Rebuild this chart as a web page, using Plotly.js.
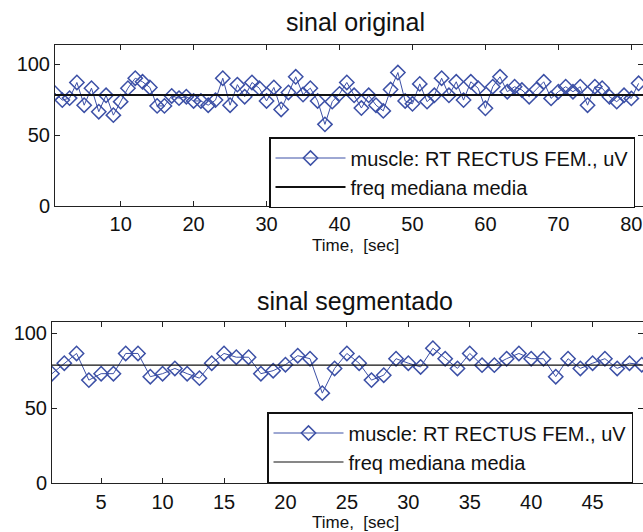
<!DOCTYPE html>
<html>
<head>
<meta charset="utf-8">
<script src="https://cdn.plot.ly/plotly-3.0.1.min.js"></script>
<style>html,body{margin:0;padding:0;background:#fff;}#chart{width:643px;height:532px;}</style>
</head>
<body>
<div id="chart"></div>
<script>
// ---- data ----
const timeTop = Array.from({length: 81}, (_, i) => i + 1);
const signalTop = [79.5, 74.6, 76, 87, 71, 83, 66.4, 78, 64, 73.5,
  83, 90, 87.5, 83.5, 70.5, 70.5, 77.5, 76, 77, 74,
  74, 71, 74.6, 90, 71, 85.5, 77, 87, 83, 74,
  83.5, 68, 80, 91, 78.5, 83, 74, 57.5, 73.5, 79,
  87, 78, 69, 78, 71, 67, 82, 94, 74, 72,
  86, 73.5, 78, 90, 78, 87.5, 74.6, 87.5, 83, 68.8,
  84, 91, 80.5, 84, 81.7, 77, 82, 87.5, 75.8, 80.5,
  84, 80.5, 84, 71, 84, 83, 77, 73.5, 78, 75.8, 86.4];
const medianTop = 78.2;

const timeBot = Array.from({length: 49}, (_, i) => i + 1);
const signalBot = [73, 80, 86.5, 68.7, 73, 73, 86.5, 86.5, 71, 73,
  76.5, 73, 70, 80, 86.5, 84, 84, 73, 75, 79,
  85, 83, 60, 76.5, 86.5, 80, 68.7, 72, 83, 80,
  77.5, 90, 83, 76.5, 86.5, 78.7, 78.7, 83, 86.5, 83,
  83, 71, 83, 76.5, 80, 83, 76.5, 80, 79];
const medianBot = 78.7;

const titles = ['sinal original', 'sinal segmentado'];
const xTitle = 'Time,\u00a0 [sec]';
const signalName = 'muscle: RT RECTUS FEM., uV';
const medianName = 'freq mediana media';
const ticksTop = [10, 20, 30, 40, 50, 60, 70, 80];
const ticksBot = [5, 10, 15, 20, 25, 30, 35, 40, 45];
const ticksY = [0, 50, 100];

// ---- style ----
const W = 643, H = 532;
const blue = '#3c50a6';
const FONT = 'Liberation Sans, Arial, sans-serif';
const px = v => v / W, py = v => (H - v) / H;

const traces = [
  {x: timeTop, y: signalTop, name: signalName, type: 'scatter', mode: 'lines+markers',
   line: {color: blue, width: 1}, marker: {symbol: 'diamond-open', size: 11, color: blue, line: {width: 1.5, color: blue}},
   xaxis: 'x', yaxis: 'y', legend: 'legend'},
  {x: [timeTop[0], timeTop[timeTop.length - 1] + 1], y: [medianTop, medianTop], name: medianName, type: 'scatter', mode: 'lines',
   line: {color: '#111', width: 2}, xaxis: 'x', yaxis: 'y', legend: 'legend'},
  {x: timeBot, y: signalBot, name: signalName, type: 'scatter', mode: 'lines+markers',
   line: {color: blue, width: 1}, marker: {symbol: 'diamond-open', size: 11, color: blue, line: {width: 1.5, color: blue}},
   xaxis: 'x2', yaxis: 'y2', legend: 'legend2'},
  {x: [timeBot[0], timeBot[timeBot.length - 1] + 1], y: [medianBot, medianBot], name: medianName, type: 'scatter', mode: 'lines',
   line: {color: '#111', width: 1.2}, xaxis: 'x2', yaxis: 'y2', legend: 'legend2'}
];

const axCommon = {
  showline: true, linecolor: '#222', linewidth: 1, mirror: 'ticks', ticks: 'inside', ticklen: 5,
  tickcolor: '#222', showgrid: false, zeroline: false, tickfont: {family: FONT, size: 20, color: '#111'}
};

const legendCommon = {
  bgcolor: '#fff', bordercolor: '#111', borderwidth: 1.5, font: {family: FONT, size: 20, color: '#111'},
  xanchor: 'right', yanchor: 'top', itemwidth: 70, tracegroupgap: 0
};

const layout = {
  width: W, height: H, margin: {l: 0, r: 0, t: 0, b: 0},
  paper_bgcolor: '#fff', plot_bgcolor: '#fff', showlegend: true,
  font: {family: FONT, color: '#111'},
  xaxis: Object.assign({}, axCommon, {domain: [px(55), 1], range: [1, 81.6], tickvals: ticksTop, anchor: 'y',
    ticklabelstandoff: 0}),
  yaxis: Object.assign({}, axCommon, {domain: [py(206), py(45)], range: [0, 113.4], tickvals: ticksY, anchor: 'x'}),
  xaxis2: Object.assign({}, axCommon, {domain: [px(52), 1], range: [1, 49.1], tickvals: ticksBot, anchor: 'y2',
    ticklabelstandoff: 1}),
  yaxis2: Object.assign({}, axCommon, {domain: [py(483), py(322)], range: [0, 107.5], tickvals: ticksY, anchor: 'x2'}),
  legend: Object.assign({}, legendCommon, {x: px(635), y: py(137)}),
  legend2: Object.assign({}, legendCommon, {x: px(633), y: py(412)}),
  annotations: [
    {text: titles[0], x: px(355), y: py(22), xref: 'paper', yref: 'paper', showarrow: false,
     font: {family: FONT, size: 25, color: '#111'}, xanchor: 'center', yanchor: 'middle'},
    {text: titles[1], x: px(355), y: py(301), xref: 'paper', yref: 'paper', showarrow: false,
     font: {family: FONT, size: 25, color: '#111'}, xanchor: 'center', yanchor: 'middle'},
    {text: xTitle, x: px(355), y: py(246), xref: 'paper', yref: 'paper', showarrow: false,
     font: {family: FONT, size: 17, color: '#111'}, xanchor: 'center', yanchor: 'middle'},
    {text: xTitle, x: px(355), y: py(522), xref: 'paper', yref: 'paper', showarrow: false,
     font: {family: FONT, size: 17, color: '#111'}, xanchor: 'center', yanchor: 'middle'}
  ]
};

Plotly.newPlot('chart', traces, layout, {displayModeBar: false, staticPlot: true});
</script>
</body>
</html>
